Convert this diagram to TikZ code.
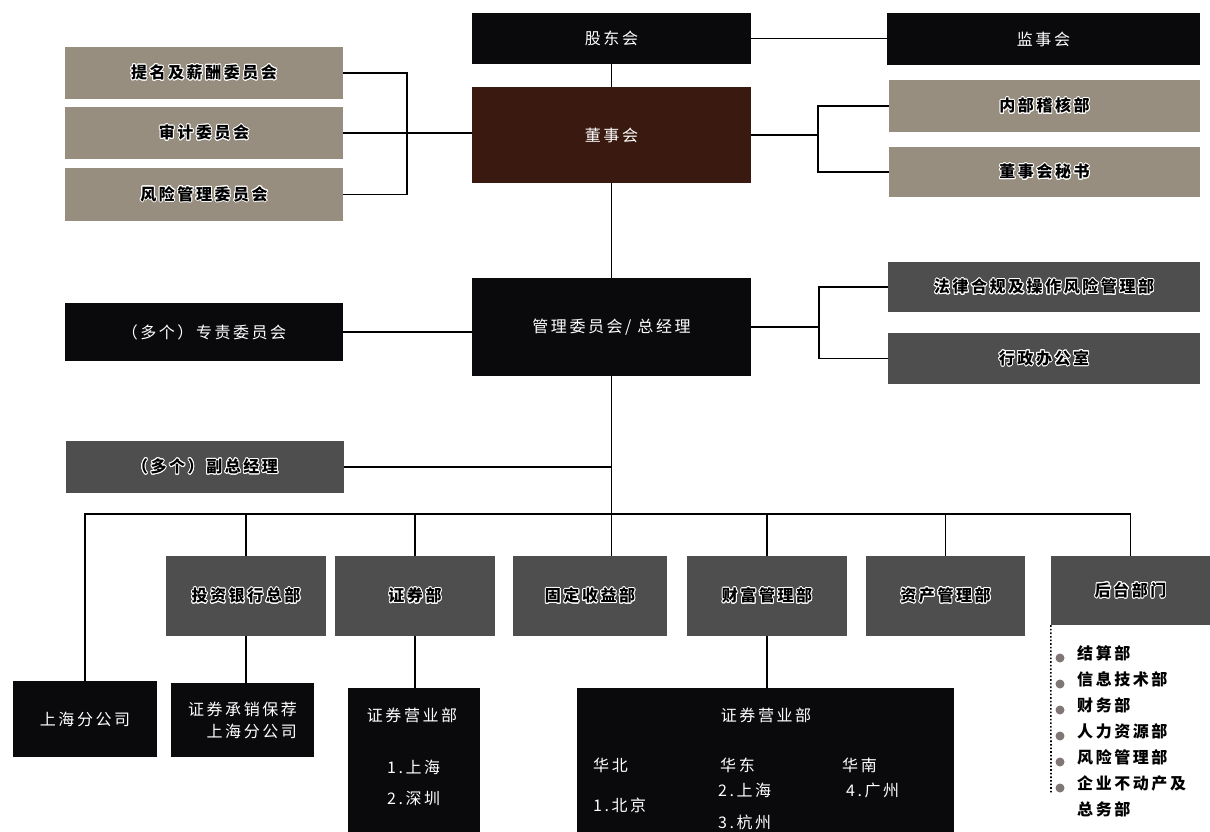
\documentclass[tikz,border=0pt]{standalone}
\usepackage{fontspec}
\setmainfont{Noto Sans CJK SC}[LetterSpace=16]
\usepackage{contour}
\contourlength{0.9pt}

\definecolor{boxblack}{RGB}{10,10,12}
\definecolor{boardbrown}{RGB}{58,26,16}
\definecolor{tanfill}{RGB}{152,142,128}
\definecolor{darkgrey}{RGB}{78,78,78}
\definecolor{bulletgrey}{RGB}{128,118,118}

\newcommand*{\busy}{514}
\newcommand*{\halo}[1]{\contour{white}{#1}}

\begin{document}
\begin{tikzpicture}
[
	x=1pt,y=-1pt,
	font=\fontsize{16}{19}\selectfont,
	unit/.style={inner sep=0pt,draw=none,anchor=center},
	blackbox/.style={unit,fill=boxblack,text=white},
	brownbox/.style={unit,fill=boardbrown,text=white},
	tanbox/.style={unit,fill=tanfill,text=black,font=\fontsize{16}{19}\selectfont\bfseries},
	greybox/.style={unit,fill=darkgrey,text=black,font=\fontsize{16}{19}\selectfont\bfseries},
	wtext/.style={inner sep=0pt,text=white},
	listtext/.style={inner sep=0pt,anchor=west,font=\fontsize{16}{19}\selectfont\bfseries},
	link/.style={line width=1.3pt,black},
	listline/.style={line width=1.6pt,dotted,black}
]

	\useasboundingbox (0,0) rectangle (1210,832);

	% top level
	\node[blackbox,minimum width=279,minimum height=51] (gdh) at (611.5,38.5) {股东会};
	\node[brownbox,minimum width=279,minimum height=96] (dsh) at (611.5,135) {董事会};
	\node[blackbox,minimum width=313,minimum height=52] (jsh) at (1043.5,39) {监事会};
	\node[tanbox,minimum width=311,minimum height=52] (nbjh) at (1044.5,106) {\halo{内部稽核部}};
	\node[tanbox,minimum width=311,minimum height=50] (dsms) at (1044.5,172) {\halo{董事会秘书}};

	% board committees
	\node[tanbox,minimum width=278,minimum height=52] (tmxc) at (204,73) {\halo{提名及薪酬委员会}};
	\node[tanbox,minimum width=278,minimum height=52] (sjwy) at (204,133) {\halo{审计委员会}};
	\node[tanbox,minimum width=278,minimum height=53] (fxwy) at (204,194.5) {\halo{风险管理委员会}};

	% management
	\node[blackbox,minimum width=279,minimum height=98] (glw) at (611.5,327) {管理委员会/\hspace{6pt}总经理};
	\node[blackbox,minimum width=278,minimum height=58] (zzwy) at (204,332) {（多个）专责委员会};
	\node[greybox,minimum width=312,minimum height=50] (flhg) at (1044,287) {\halo{法律合规及操作风险管理部}};
	\node[greybox,minimum width=312,minimum height=51] (xzbg) at (1044,358.5) {\halo{行政办公室}};
	\node[greybox,minimum width=278,minimum height=52] (fzjl) at (205,467) {\halo{（多个）副总经理}};

	% links above management
	\coordinate (lbr) at (407,133);
	\coordinate (rbr) at (818,135);
	\coordinate (mbr) at (819,327);
	\draw[link] (gdh.east) -- (gdh.east -| jsh.west);
	\draw[link] (gdh.south) -- (dsh.north);
	\draw[link] (dsh.south) -- (glw.north);
	\draw[link] (tmxc.east) -| (lbr) |- (fxwy.east);
	\draw[link] (sjwy.east) -- (sjwy.east -| dsh.west);
	\draw[link] (dsh.east) -- (rbr);
	\draw[link] (nbjh.west) -| (rbr) |- (dsms.west);
	\draw[link] (zzwy.east) -- (zzwy.east -| glw.west);
	\draw[link] (glw.east) -- (mbr);
	\draw[link] (flhg.west) -| (mbr) |- (xzbg.west);
	\draw[link] (fzjl.east) -- (fzjl.east -| glw.south);

	% departments
	\coordinate (bus) at (611.5,\busy);
	\node[greybox,minimum width=160,minimum height=80] (tzyh) at (246,596) {\halo{投资银行总部}};
	\node[greybox,minimum width=160,minimum height=80] (zqb) at (415,596) {\halo{证券部}};
	\node[greybox,minimum width=154,minimum height=80] (gdsy) at (590,596) {\halo{固定收益部}};
	\node[greybox,minimum width=160,minimum height=80] (cfgl) at (767,596) {\halo{财富管理部}};
	\node[greybox,minimum width=159,minimum height=80] (zcgl) at (945.5,596) {\halo{资产管理部}};
	\node[greybox,minimum width=159,minimum height=69] (htbm) at (1130.5,590.5) {\halo{后台部门}};

	% branches
	\node[blackbox,minimum width=144,minimum height=76] (shfg) at (85,719) {上海分公司};
	\node[blackbox,minimum width=143,minimum height=74,align=right,font=\fontsize{16}{22}\selectfont] (cxbj) at (242.5,720) {证券承销保荐\\上海分公司};
	\node[blackbox,minimum width=132,minimum height=144] (yyba) at (414,760) {};
	\node[blackbox,minimum width=377,minimum height=144] (yybb) at (765.5,760) {};

	\node[wtext] (yybat) at (412,715) {证券营业部};
	\node[wtext,anchor=west] (yyba1) at (387,767) {1.上海};
	\node[wtext,anchor=west] (yyba2) at (387,798) {2.深圳};

	\node[wtext] (yybbt) at (766,715) {证券营业部};
	\node[wtext,anchor=west] (hb) at (593,765) {华北};
	\node[wtext,anchor=west] (hb1) at (593,805) {1.北京};
	\node[wtext,anchor=west] (hd) at (720,765) {华东};
	\node[wtext,anchor=west] (hd2) at (718,790) {2.上海};
	\node[wtext,anchor=west] (hd3) at (718,822) {3.杭州};
	\node[wtext,anchor=west] (hn) at (842,765) {华南};
	\node[wtext,anchor=west] (hn4) at (846,790) {4.广州};

	% links below management
	\draw[link] (glw.south) -- (glw.south |- gdsy.north);
	\draw[link] (shfg.north) |- (bus -| htbm.north) -- (htbm.north);
	\foreach \d in {tzyh,zqb,cfgl,zcgl}
		\draw[link] (bus -| \d.north) -- (\d.north);
	\draw[link] (tzyh.south) -- (tzyh.south |- cxbj.north);
	\draw[link] (zqb.south) -- (zqb.south |- yyba.north);
	\draw[link] (cfgl.south) -- (cfgl.south |- yybb.north);

	% back office list
	\coordinate (listend) at (1051,793);
	\draw[listline] (htbm.south west) -- (listend);
	\foreach \i in {0,...,5}
		\fill[bulletgrey] (1060,{658+26*\i}) circle[radius=4.5pt];
	\foreach \t [count=\i from 0] in {结算部,信息技术部,财务部,人力资源部,风险管理部,企业不动产及,总务部}
		\node[listtext] (bo\i) at (1077,{653+26*\i}) {\t};

\end{tikzpicture}
\end{document}
